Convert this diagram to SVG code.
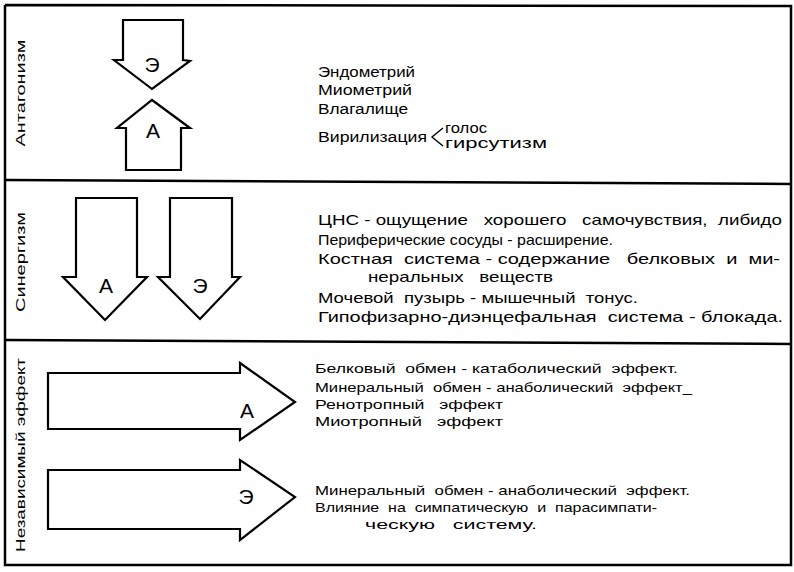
<svg xmlns="http://www.w3.org/2000/svg" width="794" height="572" viewBox="0 0 794 572">
<style>
.frame{fill:none;stroke:#000;stroke-width:2.5}
.arrow{fill:#fff;stroke:#000;stroke-width:2.2;stroke-linejoin:miter}
.t{font-family:"Liberation Sans",Arial,sans-serif;fill:#000}
.p1{font-size:14px}
.p2{font-size:14.5px}
.p3{font-size:13.5px}
.side{font-family:"Liberation Sans",Arial,sans-serif;font-size:13px;fill:#000;text-anchor:middle}
.lbl{font-family:"Liberation Sans",Arial,sans-serif;font-size:21px;fill:#000;text-anchor:middle}
</style>
<rect width="794" height="572" fill="#fff"/>
<g id="frame">
<polyline class="frame" points="5,5 791,6 791,565 5,565 5,5"/>
<line class="frame" x1="5" y1="180" x2="791" y2="184"/>
<line class="frame" x1="5" y1="340" x2="791" y2="344"/>
</g>
<g id="antagonism">
<text class="side" transform="translate(25,93) rotate(-90)" textLength="107" lengthAdjust="spacingAndGlyphs">Антагонизм</text>
<g id="arrowE1">
<polygon class="arrow" points="123,20 183,20 183,60 190,61 152,89 114,60 123,60"/>
<text class="lbl" x="152" y="72">Э</text>
</g>
<g id="arrowA1">
<polygon class="arrow" points="152,100 190,128 181,128 181,170 126,170 126,128 117,128"/>
<text class="lbl" x="153" y="138">А</text>
</g>
<g id="text1">
<text class="t p1" x="318" y="77" textLength="97" lengthAdjust="spacingAndGlyphs">Эндометрий</text>
<text class="t p1" x="318" y="95" textLength="94" lengthAdjust="spacingAndGlyphs">Миометрий</text>
<text class="t p1" x="318" y="114" textLength="90" lengthAdjust="spacingAndGlyphs">Влагалище</text>
<text class="t p1" x="318" y="142" textLength="109" lengthAdjust="spacingAndGlyphs">Вирилизация</text>
<text class="t p1" x="445" y="133" font-size="12.5" textLength="42" lengthAdjust="spacingAndGlyphs">голос</text>
<text class="t p1" x="445" y="148" font-size="13.5" textLength="102" lengthAdjust="spacingAndGlyphs">гирсутизм</text>
</g>
</g>
<g id="connectors">
<polyline points="443,128 432,137 443,146" fill="none" stroke="#000" stroke-width="1.4"/>
</g>
<g id="synergism">
<text class="side" transform="translate(25,262) rotate(-90)" textLength="100" lengthAdjust="spacingAndGlyphs">Синергизм</text>
<g id="arrowA2">
<polygon class="arrow" points="76,198 137,198 137,277 147,277 105,320 63,277 76,277"/>
<text class="lbl" x="106" y="293">А</text>
</g>
<g id="arrowE2">
<polygon class="arrow" points="170,198 232,198 232,277 240,277 200,319 158,277 170,277"/>
<text class="lbl" x="200" y="293">Э</text>
</g>
<g id="text2">
<text xml:space="preserve" class="t p2" x="318" y="225" textLength="464" lengthAdjust="spacingAndGlyphs">ЦНС - ощущение   хорошего   самочувствия,  либидо</text>
<text xml:space="preserve" class="t p2" x="318" y="245" textLength="295" lengthAdjust="spacingAndGlyphs">Периферические сосуды - расширение.</text>
<text xml:space="preserve" class="t p2" x="318" y="264" textLength="462" lengthAdjust="spacingAndGlyphs">Костная  система - содержание   белковых  и  ми-</text>
<text xml:space="preserve" class="t p2" x="368" y="282" textLength="185" lengthAdjust="spacingAndGlyphs">неральных   веществ</text>
<text xml:space="preserve" class="t p2" x="318" y="303" textLength="320" lengthAdjust="spacingAndGlyphs">Мочевой  пузырь - мышечный  тонус.</text>
<text xml:space="preserve" class="t p2" x="318" y="322" textLength="465" lengthAdjust="spacingAndGlyphs">Гипофизарно-диэнцефальная  система - блокада.</text>
</g>
</g>
<g id="independent">
<text class="side" transform="translate(25,455) rotate(-90)" textLength="194" lengthAdjust="spacingAndGlyphs">Независимый эффект</text>
<g id="arrowA3">
<polygon class="arrow" points="48,373 240,373 240,363 295,402 240,440 240,429 48,429"/>
<text class="lbl" x="247" y="418">А</text>
</g>
<g id="arrowE3">
<polygon class="arrow" points="48,470 240,470 240,460 295,497 240,540 240,529 48,529"/>
<text class="lbl" x="246" y="504">Э</text>
</g>
<g id="text3">
<text xml:space="preserve" class="t p3" x="315" y="373" textLength="363" lengthAdjust="spacingAndGlyphs">Белковый  обмен - катаболический  эффект.</text>
<text xml:space="preserve" class="t p3" x="315" y="392" textLength="377" lengthAdjust="spacingAndGlyphs">Минеральный  обмен - анаболический  эффект_</text>
<text xml:space="preserve" class="t p3" x="315" y="409" textLength="188" lengthAdjust="spacingAndGlyphs">Ренотропный   эффект</text>
<text xml:space="preserve" class="t p3" x="315" y="426" textLength="188" lengthAdjust="spacingAndGlyphs">Миотропный   эффект</text>
<text xml:space="preserve" class="t p3" x="315" y="495" textLength="375" lengthAdjust="spacingAndGlyphs">Минеральный  обмен - анаболический  эффект.</text>
<text xml:space="preserve" class="t p3" x="315" y="512" textLength="342" lengthAdjust="spacingAndGlyphs">Влияние  на  симпатическую  и  парасимпати-</text>
<text xml:space="preserve" class="t p3" x="365" y="529" textLength="172" lengthAdjust="spacingAndGlyphs">ческую   систему.</text>
</g>
</g>
</svg>
